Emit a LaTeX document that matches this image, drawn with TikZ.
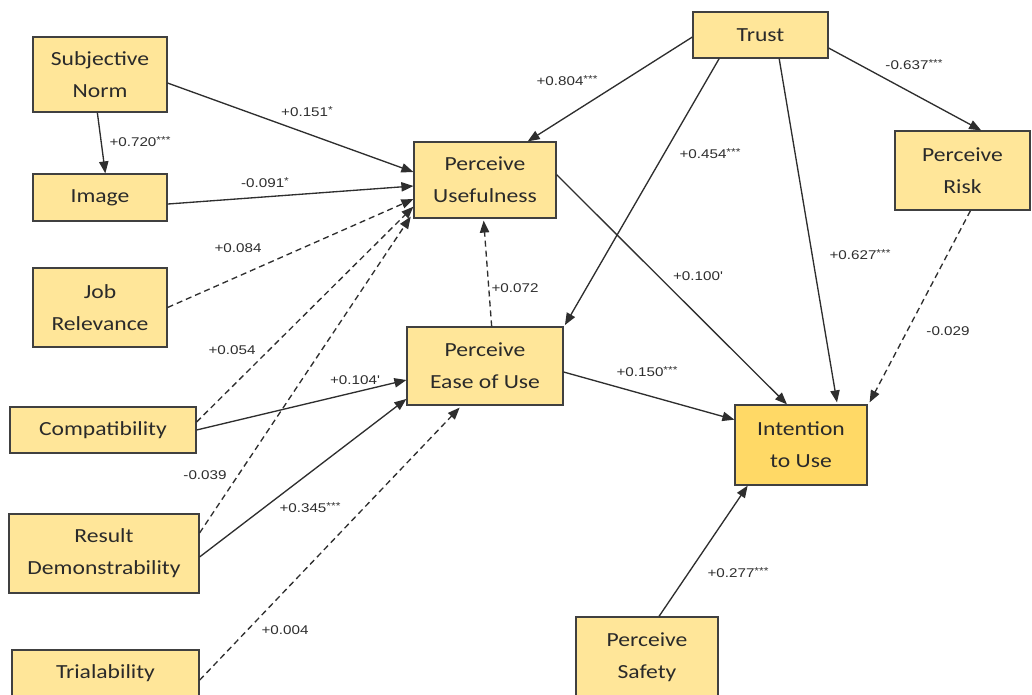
\documentclass[tikz,border=0pt]{standalone}
\usepackage{fontspec}
\newfontfamily\boxfont[FakeStretch=1.18]{Carlito}
\newfontfamily\coeffont[FakeStretch=1.2]{Liberation Sans}
\usetikzlibrary{arrows.meta}

\definecolor{boxfill}{HTML}{FFE699}
\definecolor{keyfill}{HTML}{FFD966}
\definecolor{boxline}{HTML}{404040}
\definecolor{boxtext}{HTML}{2A2A2A}
\definecolor{linecol}{HTML}{2E2E2E}

\newcommand{\sig}[1]{\raisebox{2.2pt}{\fontsize{7.5}{7.5}\selectfont #1}}

\begin{document}
\begin{tikzpicture}[x=0.75pt,y=-0.75pt]
    \tikzstyle{construct}=[draw=boxline,fill=boxfill,line width=0.9pt,text=boxtext,
    align=center,inner sep=0pt,font=\boxfont\fontsize{15}{24}\selectfont]
    \tikzstyle{coef}=[inner sep=1pt,text=linecol,font=\coeffont\fontsize{9.5}{10}\selectfont]
    \tikzstyle{link}=[draw=linecol,line width=1pt,-{Triangle[length=9pt,width=7pt]}]
    \tikzstyle{weak}=[link,dash pattern=on 4.5pt off 3pt]

    \useasboundingbox (0,0) rectangle (1032,695);

    %% Antecedents on the left
    \node [construct,minimum width=100.5pt,minimum height=56.25pt] (subj) at (100,74.5) {Subjective\\Norm};
    \node [construct,minimum width=100.5pt,minimum height=35.25pt] (image) at (100,197.5) {Image};
    \node [construct,minimum width=100.5pt,minimum height=59.25pt] (job) at (100,307.5) {Job\\Relevance};
    \node [construct,minimum width=139.5pt,minimum height=34.5pt] (compat) at (103,430) {Compatibility};
    \node [construct,minimum width=142.5pt,minimum height=59.25pt] (result) at (104,553.5) {Result\\Demonstrability};
    \node [construct,minimum width=140.25pt,minimum height=35.25pt] (trial) at (105.5,673.5) {Trialability};

    %% Core constructs
    \node [construct,minimum width=106.5pt,minimum height=57pt] (pu) at (485,180) {Perceive\\Usefulness};
    \node [construct,minimum width=117pt,minimum height=58.5pt] (peu) at (485,366) {Perceive\\Ease of Use};
    \node [construct,minimum width=101.25pt,minimum height=34.5pt] (trust) at (760.5,35) {Trust};
    \node [construct,minimum width=101.25pt,minimum height=59.25pt] (risk) at (962.5,170.5) {Perceive\\Risk};
    \node [construct,fill=keyfill,minimum width=99pt,minimum height=60pt] (intent) at (801,445) {Intention\\to Use};
    \node [construct,minimum width=106.5pt,minimum height=60pt] (safety) at (647,657) {Perceive\\Safety};

    %% Paths into usefulness and ease of use
    \draw [link] ([xshift=-2pt]subj.south) -- ([xshift=4pt]image.north);
    \draw [link] ([yshift=-6.4pt]subj.east) -- ([yshift=6pt]pu.west);
    \draw [link] ([yshift=-4.9pt]image.east) -- ([yshift=-4.5pt]pu.west);
    \draw [weak] (job.east) -- ([yshift=-14.3pt]pu.west);
    \draw [weak] ([yshift=6pt]compat.east) -- ([yshift=-20pt]pu.west);
    \draw [link] (compat.east) -- ([yshift=-10.5pt]peu.west);
    \draw [weak] ([yshift=15.4pt]result.east) -- ([xshift=-2pt,yshift=1.5pt]pu.south west);
    \draw [link] ([yshift=-2.6pt]result.east) -- ([yshift=5pt]peu.south west);
    \draw [weak] ([yshift=-5pt]trial.east) -- ([xshift=-19pt,yshift=-1.5pt]peu.south);
    \draw [weak] ([xshift=5pt]peu.north) -- ([xshift=-1pt,yshift=-1.5pt]pu.south);

    %% Paths from trust
    \draw [link] ([yshift=-1.5pt]trust.west) -- ([xshift=32pt]pu.north);
    \draw [link] ([xshift=-31pt]trust.south) -- ([xshift=1pt,yshift=1pt]peu.north east);
    \draw [link] ([xshift=14pt]trust.south) -- ([xshift=27pt,yshift=1.5pt]intent.north);
    \draw [link] ([yshift=-9.75pt]trust.east) -- ([xshift=14pt]risk.north);

    %% Paths into intention
    \draw [link] ([yshift=4pt]pu.east) -- ([xshift=-10.5pt]intent.north);
    \draw [link] ([yshift=-4.5pt]peu.east) -- ([yshift=19pt]intent.west);
    \draw [weak] ([xshift=6pt]risk.south) -- ([xshift=1.5pt,yshift=1.5pt]intent.north east);
    \draw [link] ([xshift=9pt]safety.north) -- ([xshift=-40pt]intent.south);

    %% Coefficients
    \node [coef] (c1) at (140,142) {+0.720\sig{***}};
    \node [coef] (c2) at (307,112) {+0.151\sig{*}};
    \node [coef] (c3) at (265,183) {-0.091\sig{*}};
    \node [coef] (c4) at (238,248) {+0.084};
    \node [coef] (c5) at (232,350) {+0.054};
    \node [coef] (c6) at (355,380) {+0.104'};
    \node [coef] (c7) at (205,475) {-0.039};
    \node [coef] (c8) at (310,508) {+0.345\sig{***}};
    \node [coef] (c9) at (285,630) {+0.004};
    \node [coef] (c10) at (515,288) {+0.072};
    \node [coef] (c11) at (567,81) {+0.804\sig{***}};
    \node [coef] (c12) at (710,154) {+0.454\sig{***}};
    \node [coef] (c13) at (860,255) {+0.627\sig{***}};
    \node [coef] (c14) at (914,65) {-0.637\sig{***}};
    \node [coef] (c15) at (698,276) {+0.100'};
    \node [coef] (c16) at (647,372) {+0.150\sig{***}};
    \node [coef] (c17) at (948,331) {-0.029};
    \node [coef] (c18) at (738,573) {+0.277\sig{***}};
\end{tikzpicture}
\end{document}
